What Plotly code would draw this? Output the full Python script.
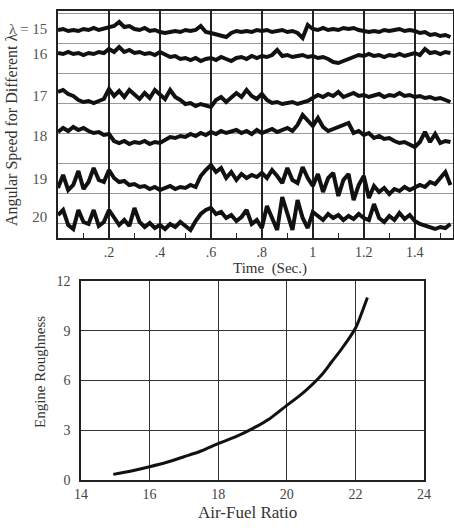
import plotly.graph_objects as go

# ---------------- data ----------------
time_s = [round(i * 0.02, 2) for i in range(78)]  # 0.00 .. 1.54 s

lam15 = [208,209,207,208,207,209,208,210,208,209,210,212,216,211,212,209,208,210,207,208,
         206,205,206,207,206,208,207,208,212,206,205,204,203,201,205,207,206,207,206,208,
         207,208,206,207,208,206,207,205,200,213,209,208,210,208,209,208,210,209,210,208,
         207,206,207,206,208,207,208,209,207,208,207,205,206,203,204,202,203,201]
lam16 = [185,184,186,184,185,183,185,184,186,185,189,186,191,186,188,185,186,184,185,183,
         186,184,181,182,179,180,178,180,177,179,180,178,181,179,177,180,181,179,182,180,
         182,181,183,188,182,183,181,182,183,181,182,180,181,179,176,175,177,180,181,183,
         182,184,182,183,181,183,182,184,182,183,185,183,189,185,186,184,186,185]
lam17 = [146,148,144,142,138,136,137,135,137,139,149,142,147,141,148,143,139,145,140,148,
         144,139,148,141,138,134,135,132,134,133,131,138,141,136,140,145,141,148,142,139,
         144,138,135,136,134,135,136,134,135,137,140,143,141,144,142,146,141,143,145,142,
         143,141,142,144,141,143,142,145,142,143,141,142,140,141,139,140,138,136]
lam18 = [106,110,107,111,108,110,107,105,106,103,104,97,95,97,94,96,95,97,94,96,
         95,98,101,100,102,101,104,102,105,103,106,104,107,105,106,108,105,107,104,108,
         105,107,109,106,108,110,107,113,123,118,112,120,111,107,109,112,113,115,105,107,
         103,105,100,102,99,100,97,95,96,93,91,96,106,96,104,95,97,96]
lam19 = [50,63,48,53,67,49,56,70,58,56,68,60,56,57,53,54,51,52,49,51,
         48,50,52,49,51,50,53,51,62,68,73,66,70,60,66,58,64,60,63,61,
         65,60,68,62,55,70,58,55,71,60,52,64,46,60,65,42,58,64,38,53,
         62,40,52,46,50,44,49,47,51,48,50,53,51,56,54,60,66,53]
lam20 = [23,28,13,9,28,16,14,28,12,16,28,20,13,18,12,30,16,11,15,10,
         13,9,14,11,16,12,8,17,24,28,30,24,26,20,23,17,21,28,14,18,
         10,32,20,8,41,23,8,38,20,10,26,22,18,24,20,23,18,22,19,24,
         20,18,34,20,16,22,18,25,19,23,17,14,12,10,9,11,10,14]

traces_top = [lam15, lam16, lam17, lam18, lam19, lam20]
lambda_labels = ["λ = 15", "16", "17", "18", "19", "20"]
lambda_label_pos = [209, 184, 142, 102, 59, 21]

time_ticks = [0.2, 0.4, 0.6, 0.8, 1.0, 1.2, 1.4]
time_tick_text = [".2", ".4", ".6", ".8", "1", "1.2", "1.4"]
time_minor = [0.1, 0.3, 0.5, 0.7, 0.9, 1.1, 1.3, 1.5]

afr = [14.94, 15.5, 16.0, 16.5, 17.0, 17.5, 18.0, 18.5, 19.0, 19.5, 20.0, 20.5, 21.0, 21.3, 21.65, 22.0, 22.18, 22.35]
roughness = [0.34, 0.56, 0.8, 1.07, 1.4, 1.75, 2.2, 2.6, 3.1, 3.7, 4.5, 5.3, 6.3, 7.1, 8.05, 9.15, 10.05, 11.0]

W, H = 454, 530
SERIF = "Liberation Serif, Times New Roman, serif"

fig = go.Figure()
for vals in traces_top:
    fig.add_trace(go.Scatter(x=time_s, y=vals, mode="lines",
                             line=dict(color="#111111", width=4),
                             xaxis="x", yaxis="y", showlegend=False, hoverinfo="skip"))

fig.add_trace(go.Scatter(x=afr, y=roughness, mode="lines",
                         line=dict(color="#111111", width=3, shape="spline"),
                         xaxis="x2", yaxis="y2", showlegend=False, hoverinfo="skip"))

def px_dom(a, b, total):
    return [a / total, b / total]

top_x = px_dom(58, 453, W)
top_y = [1 - 238 / H, 1 - 11 / H]
bot_x = px_dom(81, 424, W)
bot_y = [1 - 480 / H, 1 - 281 / H]

tickfont = dict(family=SERIF, size=14, color="#444444")

fig.update_layout(
    width=W, height=H,
    margin=dict(l=0, r=0, t=0, b=0, autoexpand=False),
    paper_bgcolor="white", plot_bgcolor="white",
    showlegend=False,
    xaxis=dict(domain=top_x, range=[0, 1.55], tickmode="array",
               tickvals=time_ticks, ticktext=time_tick_text, automargin=False,
               showgrid=True, gridcolor="#222222", gridwidth=1.5,
               zeroline=False, showline=True, linecolor="#222222", linewidth=1.5, mirror=True,
               ticks="", tickfont=tickfont, ticklabelstandoff=0,
               minor=dict(tickvals=time_minor, ticks="inside", ticklen=5,
                          tickcolor="#222222", tickwidth=1, showgrid=False),
               anchor="y"),
    yaxis=dict(domain=top_y, range=[0, 227], tickmode="array",
               tickvals=lambda_label_pos, ticktext=lambda_labels, automargin=False,
               showgrid=False, zeroline=False,
               showline=True, linecolor="#222222", linewidth=1.5, mirror=True,
               ticks="", tickfont=dict(family=SERIF, size=15, color="#555555"),
               ticklabelstandoff=6,
               minor=dict(tick0=15, dtick=30, showgrid=True, gridcolor="#9a9a9a",
                          gridwidth=1.2, ticks=""),
               anchor="x"),
    xaxis2=dict(domain=bot_x, range=[14, 24], dtick=2, tick0=14, automargin=False,
                showgrid=True, gridcolor="#333333", gridwidth=1.3,
                zeroline=False, showline=True, linecolor="#222222", linewidth=1.5, mirror=True,
                ticks="", tickfont=tickfont, ticklabelstandoff=0, anchor="y2"),
    yaxis2=dict(domain=bot_y, range=[0, 12], dtick=3, tick0=0, automargin=False,
                showgrid=True, gridcolor="#333333", gridwidth=1.3,
                zeroline=False, showline=True, linecolor="#222222", linewidth=1.5, mirror=True,
                ticks="", tickfont=tickfont, ticklabelstandoff=6, anchor="x2"),
)

ann_font = dict(family=SERIF, size=16, color="#333333")
fig.add_annotation(text="Angular Speed for Different λ", x=12 / W, y=1 - 130 / H,
                   xref="paper", yref="paper", textangle=-90, showarrow=False,
                   xanchor="center", yanchor="middle", font=ann_font)
fig.add_annotation(text="Time  (Sec.)", x=270 / W, y=1 - 268 / H,
                   xref="paper", yref="paper", showarrow=False,
                   xanchor="center", yanchor="middle", font=dict(family=SERIF, size=15, color="#333333"))
fig.add_annotation(text="Engine Roughness", x=40 / W, y=1 - 372 / H,
                   xref="paper", yref="paper", textangle=-90, showarrow=False,
                   xanchor="center", yanchor="middle", font=dict(family=SERIF, size=15, color="#333333"))
fig.add_annotation(text="Air-Fuel Ratio", x=247 / W, y=1 - 512 / H,
                   xref="paper", yref="paper", showarrow=False,
                   xanchor="center", yanchor="middle", font=dict(family=SERIF, size=17, color="#333333"))

fig.write_html("out.html")
